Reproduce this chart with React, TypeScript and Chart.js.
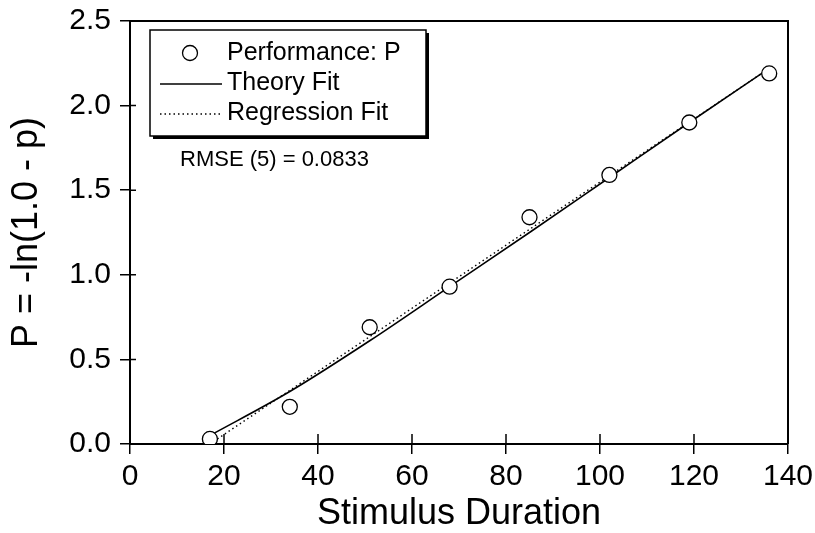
import React, { useEffect, useRef } from "react";
import { Chart, registerables } from "chart.js";

Chart.register(...registerables);

const FONT = "'Liberation Sans', Arial, Helvetica, sans-serif";

// ---- data ----
const durations = [17, 34, 51, 68, 85, 102, 119, 136];
const performanceP = [0.03, 0.22, 0.69, 0.93, 1.34, 1.59, 1.9, 2.19];
const theoryFit = [0.05, 0.31, 0.61, 0.93, 1.25, 1.575, 1.9, 2.22];
const regressionX = [17, 136];
const regressionFit = [0.0, 2.22];

const xTicks = [0, 20, 40, 60, 80, 100, 120, 140];
const yTicks = [0, 0.5, 1.0, 1.5, 2.0, 2.5];

const seriesLabels = ["Performance: P", "Theory Fit", "Regression Fit"];
const rmseLabel = "RMSE (5) = 0.0833";
const xTitle = "Stimulus Duration";
const yTitle = "P = -ln(1.0 - p)";

const framePlugin = {
  id: "frameAndTicks",
  afterDatasetsDraw(chart: any) {
    const { ctx, chartArea } = chart;
    const { left, right, top, bottom } = chartArea;
    ctx.save();
    ctx.strokeStyle = "#000";
    ctx.lineWidth = 2;
    ctx.beginPath();
    ctx.moveTo(left, top);
    ctx.lineTo(right, top);
    ctx.lineTo(right, bottom);
    ctx.stroke();
    ctx.lineWidth = 1.5;
    const xs = chart.scales.x;
    const ys = chart.scales.y;
    ctx.beginPath();
    xTicks.forEach((v) => {
      const px = xs.getPixelForValue(v);
      ctx.moveTo(px, bottom);
      ctx.lineTo(px, bottom - 10);
    });
    yTicks.forEach((v) => {
      const py = ys.getPixelForValue(v);
      ctx.moveTo(left, py);
      ctx.lineTo(left + 6, py);
    });
    ctx.stroke();
    ctx.restore();
  },
};

const legendPlugin = {
  id: "boxLegend",
  afterDraw(chart: any) {
    const { ctx, chartArea } = chart;
    const ds = chart.data.datasets;
    const x0 = chartArea.left + 20;
    const y0 = chartArea.top + 9;
    const w = 276;
    const h = 106;
    ctx.save();
    ctx.fillStyle = "#000";
    ctx.fillRect(x0 + 3, y0 + 3, w, h);
    ctx.fillStyle = "#fff";
    ctx.fillRect(x0, y0, w, h);
    ctx.strokeStyle = "#000";
    ctx.lineWidth = 1.5;
    ctx.strokeRect(x0, y0, w, h);

    ctx.font = `25px ${FONT}`;
    ctx.textBaseline = "middle";
    ctx.textAlign = "left";
    ds.forEach((d: any, i: number) => {
      const cy = y0 + 23 + i * 30;
      if (i === 0) {
        ctx.beginPath();
        ctx.arc(x0 + 40, cy, d.pointRadius, 0, Math.PI * 2);
        ctx.fillStyle = d.backgroundColor;
        ctx.fill();
        ctx.lineWidth = d.borderWidth;
        ctx.strokeStyle = d.borderColor;
        ctx.stroke();
      } else {
        ctx.beginPath();
        ctx.setLineDash(d.borderDash || []);
        ctx.lineWidth = d.borderWidth;
        ctx.strokeStyle = d.borderColor;
        ctx.moveTo(x0 + 10, cy + 1);
        ctx.lineTo(x0 + 72, cy + 1);
        ctx.stroke();
        ctx.setLineDash([]);
      }
      ctx.fillStyle = "#000";
      ctx.fillText(d.label, x0 + 77, cy);
    });

    ctx.font = `22px ${FONT}`;
    ctx.fillText(rmseLabel, chartArea.left + 50, y0 + h + 24);
    ctx.restore();
  },
};

export default function App() {
  const ref = useRef<HTMLCanvasElement | null>(null);

  useEffect(() => {
    if (!ref.current) return;
    const chart = new Chart(ref.current, {
      type: "scatter",
      data: {
        datasets: [
          {
            label: seriesLabels[0],
            data: durations.map((x, i) => ({ x, y: performanceP[i] })),
            showLine: false,
            pointStyle: "circle",
            pointRadius: 7.5,
            borderWidth: 1.3,
            backgroundColor: "#fff",
            borderColor: "#000",
          },
          {
            label: seriesLabels[1],
            data: durations.map((x, i) => ({ x, y: theoryFit[i] })),
            showLine: true,
            pointRadius: 0,
            borderWidth: 1.6,
            borderColor: "#000",
            backgroundColor: "#000",
            cubicInterpolationMode: "monotone",
          },
          {
            label: seriesLabels[2],
            data: regressionX.map((x, i) => ({ x, y: regressionFit[i] })),
            showLine: true,
            pointRadius: 0,
            borderWidth: 1.4,
            borderDash: [1.5, 3],
            borderColor: "#000",
            backgroundColor: "#000",
          },
        ],
      },
      options: {
        animation: false,
        responsive: false,
        devicePixelRatio: 1,
        layout: { padding: { top: 21, right: 27, left: 0, bottom: 0 } },
        plugins: {
          legend: { display: false },
          tooltip: { enabled: false },
        },
        scales: {
          x: {
            type: "linear",
            min: 0,
            max: 140,
            afterBuildTicks: (s: any) => {
              s.ticks = xTicks.map((v) => ({ value: v }));
            },
            afterFit: (s: any) => {
              s.height = 89;
              s.paddingLeft = 0;
              s.paddingRight = 0;
            },
            ticks: {
              color: "#000",
              font: { family: FONT, size: 30 },
              padding: 5,
              maxRotation: 0,
              autoSkip: false,
            },
            grid: {
              drawOnChartArea: false,
              drawTicks: true,
              tickLength: 10,
              color: "#000",
              lineWidth: 1.5,
            },
            border: { display: true, color: "#000", width: 2 },
            title: {
              display: true,
              text: xTitle,
              color: "#000",
              font: { family: FONT, size: 36 },
              padding: { top: 0, bottom: -3 },
            },
          },
          y: {
            type: "linear",
            min: 0,
            max: 2.5,
            afterBuildTicks: (s: any) => {
              s.ticks = yTicks.map((v) => ({ value: v }));
            },
            afterFit: (s: any) => {
              s.width = 130;
              s.paddingTop = 0;
              s.paddingBottom = 0;
            },
            ticks: {
              color: "#000",
              font: { family: FONT, size: 30 },
              padding: 9,
              autoSkip: false,
              callback: (v: any) => Number(v).toFixed(1),
            },
            grid: {
              drawOnChartArea: false,
              drawTicks: true,
              tickLength: 10,
              color: "#000",
              lineWidth: 1.5,
            },
            border: { display: true, color: "#000", width: 2 },
            title: {
              display: true,
              text: yTitle,
              color: "#000",
              font: { family: FONT, size: 36 },
              padding: { top: 5, bottom: 0 },
            },
          },
        },
      },
      plugins: [framePlugin, legendPlugin],
    } as any);
    return () => chart.destroy();
  }, []);

  return (
    <div style={{ position: "absolute", left: 0, top: 0, width: 815, height: 533, background: "#fff" }}>
      <canvas ref={ref} width={815} height={533} />
    </div>
  );
}
